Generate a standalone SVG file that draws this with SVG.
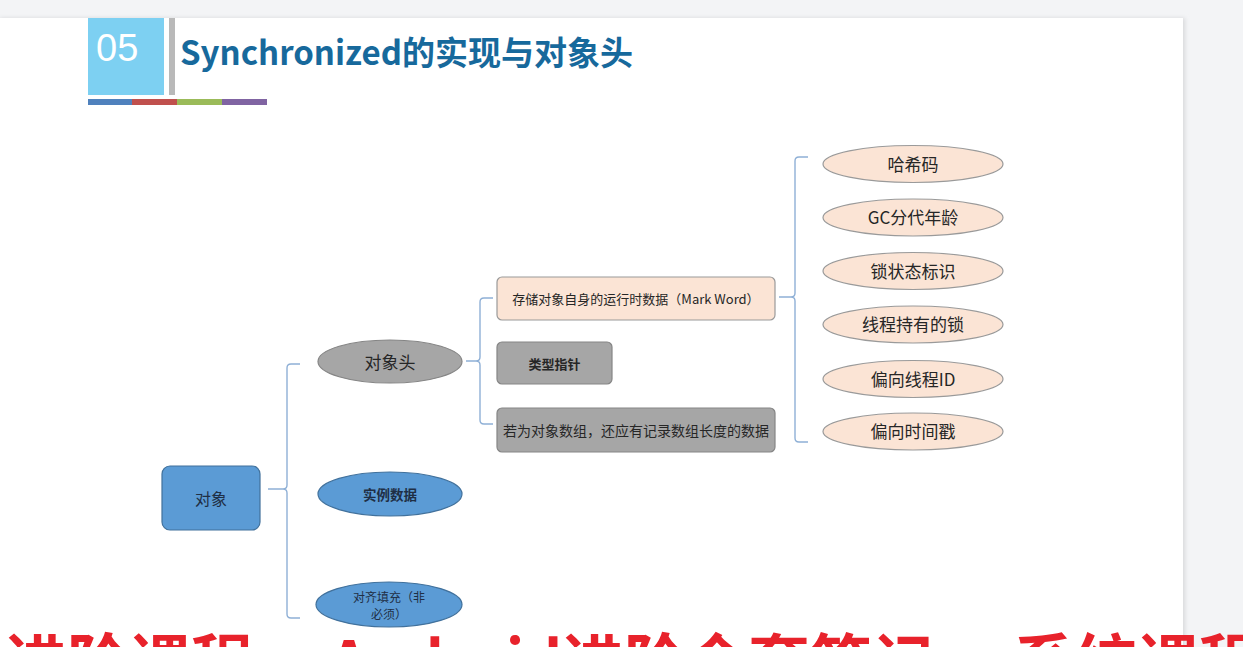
<svg xmlns="http://www.w3.org/2000/svg" width="1243" height="647" viewBox="0 0 1243 647">
<defs>
<style>
.t{font-family:"Noto Sans CJK SC","Microsoft YaHei",sans-serif;fill:#262626;text-anchor:middle;dominant-baseline:central}
.br{fill:none;stroke:#8fb0d6;stroke-width:1.4}
.peach{fill:#fbe4d5;stroke:#9a9a9a;stroke-width:1.2}
.gray{fill:#a6a6a6;stroke:#858585;stroke-width:1.2}
.blue{fill:#5b9bd5;stroke:#41719c;stroke-width:1.2}
.red{font-family:"Noto Sans CJK SC",sans-serif;font-size:62px;font-weight:bold;fill:#e8222b}
</style>
<filter id="sh" x="-5%" y="-5%" width="110%" height="110%"><feGaussianBlur stdDeviation="2"/></filter>
</defs>
<rect x="0" y="0" width="1243" height="647" fill="#f3f4f6"/>
<rect x="0" y="18" width="1185" height="640" fill="#d8d9db" filter="url(#sh)"/>
<rect x="0" y="18" width="1183" height="640" fill="#ffffff"/>

<g id="header">
<rect x="88" y="18" width="76" height="77" fill="#7dd0f2"/>
<text x="96" y="61" style="font-family:'Liberation Sans Narrow','Liberation Sans',sans-serif;font-size:38px;fill:#ffffff">05</text>
<rect x="169" y="18" width="6" height="77" fill="#b9b9b9"/>
<text x="180" y="65" style="font-family:'Noto Sans CJK SC',sans-serif;font-size:33px;font-weight:bold;fill:#17699c">Synchronized的实现与对象头</text>
<rect x="88" y="99" width="44" height="6" fill="#4f81bd"/>
<rect x="132" y="99" width="45" height="6" fill="#c0504d"/>
<rect x="177" y="99" width="45" height="6" fill="#9bbb59"/>
<rect x="222" y="99" width="45" height="6" fill="#8064a2"/>
</g>

<g id="connectors">
<path class="br" d="M300,364 H291 Q287,364 287,368 V485 Q287,489 283,489 H268 M283,489 Q287,489 287,493 V614 Q287,618 291,618 H300"/>
<path class="br" d="M493,298 H484 Q480,298 480,302 V357 Q480,361 476,361 H466 M476,361 Q480,361 480,365 V420 Q480,424 484,424 H493"/>
<path class="br" d="M808,157 H799 Q795,157 795,161 V293 Q795,297 791,297 H779 M791,297 Q795,297 795,301 V438 Q795,442 799,442 H808"/>
</g>

<g id="node-duixiang">
<rect class="blue" x="162" y="466" width="98" height="64" rx="8"/>
<text class="t" x="211" y="498" style="font-size:16px;fill:#1f2f45">对象</text>
</g>
<g id="node-duixiangtou">
<ellipse class="gray" cx="390" cy="361.5" rx="72" ry="21.5"/>
<text class="t" x="390" y="361" style="font-size:17px">对象头</text>
</g>
<g id="node-shilishuju">
<ellipse class="blue" cx="390" cy="494" rx="72" ry="22"/>
<text class="t" x="390" y="494" style="font-size:13.5px;font-weight:bold;fill:#1f2f45">实例数据</text>
</g>
<g id="node-duiqitianchong">
<ellipse class="blue" cx="389" cy="604.5" rx="73" ry="22.5"/>
<text class="t" x="389" y="596" style="font-size:12px;fill:#1f2f45">对齐填充（非</text>
<text class="t" x="389" y="613" style="font-size:12px;fill:#1f2f45">必须）</text>
</g>
<g id="node-markword">
<rect class="peach" x="497" y="277" width="278" height="43" rx="5"/>
<text class="t" x="636" y="298.5" style="font-size:13px">存储对象自身的运行时数据（Mark Word）</text>
</g>
<g id="node-leixingzhizhen">
<rect class="gray" x="497" y="342" width="115" height="42" rx="5"/>
<text class="t" x="554.5" y="363" style="font-size:13px;font-weight:bold">类型指针</text>
</g>
<g id="node-shuzuchangdu">
<rect class="gray" x="497" y="408" width="278" height="44" rx="5"/>
<text class="t" x="636" y="430" style="font-size:14px">若为对象数组，还应有记录数组长度的数据</text>
</g>
<g id="node-haxima">
<ellipse class="peach" cx="913" cy="164" rx="90" ry="18.5"/>
<text class="t" x="913" y="163" style="font-size:17px">哈希码</text>
</g>
<g id="node-gc">
<ellipse class="peach" cx="913" cy="217.5" rx="90" ry="18.5"/>
<text class="t" x="913" y="216.5" style="font-size:17px">GC分代年龄</text>
</g>
<g id="node-suozhuangtai">
<ellipse class="peach" cx="913" cy="271" rx="90" ry="18.5"/>
<text class="t" x="913" y="270" style="font-size:17px">锁状态标识</text>
</g>
<g id="node-xianchengsuo">
<ellipse class="peach" cx="913" cy="324.5" rx="90" ry="18.5"/>
<text class="t" x="913" y="323.5" style="font-size:17px">线程持有的锁</text>
</g>
<g id="node-pianxiangid">
<ellipse class="peach" cx="913" cy="379" rx="90" ry="18.5"/>
<text class="t" x="913" y="378" style="font-size:17px">偏向线程ID</text>
</g>
<g id="node-pianxiangshijian">
<ellipse class="peach" cx="913" cy="431.5" rx="90" ry="18.5"/>
<text class="t" x="913" y="430.5" style="font-size:17px">偏向时间戳</text>
</g>

<g id="subtitle">
<text class="red" x="5" y="686">进阶课程，</text>
<text class="red" x="330" y="686" textLength="232" lengthAdjust="spacingAndGlyphs">Android</text>
<text class="red" x="562" y="686">进阶全套笔记，</text>
<text class="red" x="1013" y="686">系统课程</text>
</g>
</svg>
